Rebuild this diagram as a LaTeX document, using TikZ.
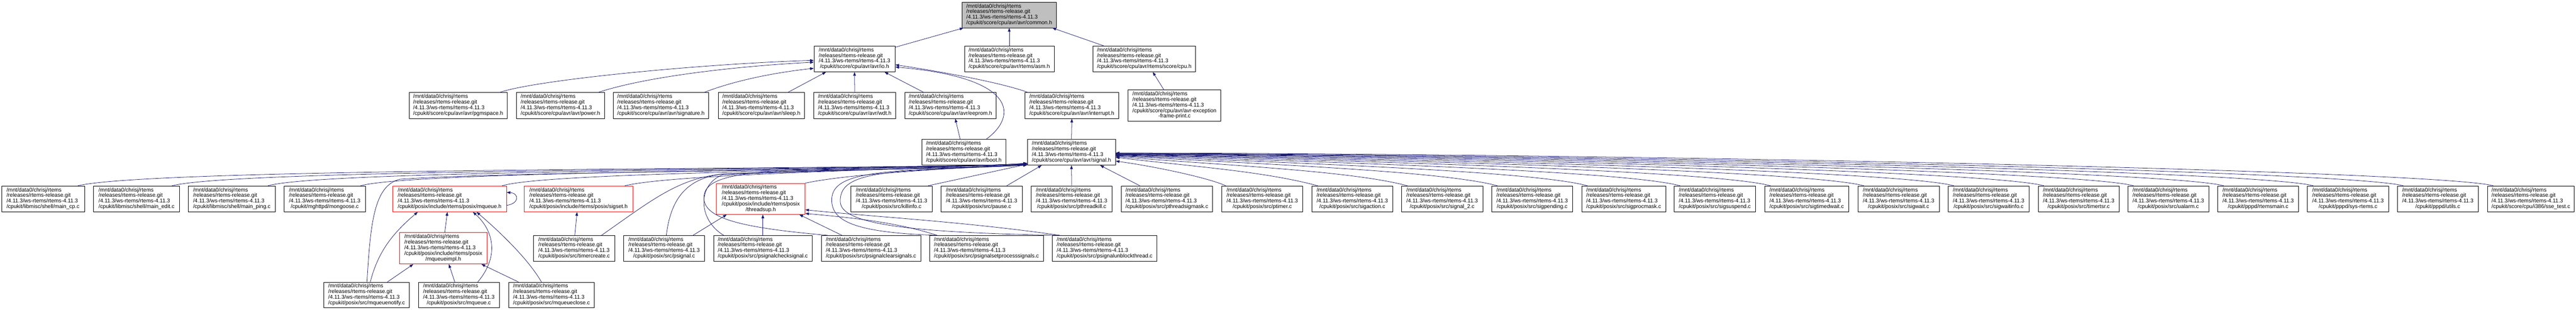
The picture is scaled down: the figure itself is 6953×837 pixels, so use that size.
\documentclass[tikz,border=0pt]{standalone}
\usepackage{fontspec}
\setmainfont{Liberation Sans}
\usetikzlibrary{arrows.meta,calc}
\definecolor{edgec}{RGB}{25,25,112}
\definecolor{topfill}{RGB}{191,191,191}
\newcommand\pathpre{/mnt/data0/chrisj/rtems\\/releases/rtems-release.git\\/4.11.3/ws-rtems/rtems-4.11.3\\}
\newcommand\lastl[1]{\multicolumn{1}{@{}c@{}}{#1}}
\newcommand\gn[7][]{%
 \pgfmathsetmacro\gncx{(#3+#4)/2}%
 \pgfmathsetmacro\gncy{(#5+#6)/2}%
 \pgfmathsetmacro\gnw{(#4-#3)*0.75}%
 \pgfmathsetmacro\gnh{(#6-#5)*0.75}%
 \node[gbox,#1,minimum width=\gnw pt,minimum height=\gnh pt] (#2) at (\gncx,\gncy) {\begin{tabular}{@{}l@{}}\pathpre #7\end{tabular}};}
\newcommand\redge[3]{%
 \pgfmathsetmacro\rca{#2-150}%
 \pgfmathsetmacro\rcb{3011+0.4*(#2-3011)}%
 \pgfmathsetmacro\rcc{#3+0.4*(502-#3)-0.009*(#2-3011)}%
 \pgfmathsetmacro\rdy{#3-411}%
 \draw[dep] ($(#1.north west)+(16,0)$) .. controls (\rca,462) and (\rcb,\rcc) .. ($(signal.east)+(0,\rdy)$);}
\begin{document}
\begin{tikzpicture}[x=0.75pt,y=-0.75pt,
 gbox/.style={draw=black,line width=0.75pt,fill=white,inner sep=0pt,font=\fontsize{11}{11.2}\selectfont},
 redbox/.style={draw=red},
 dep/.style={draw=edgec,line width=0.8pt,-{Triangle[length=7.5pt,width=5.5pt]}}]
\useasboundingbox (0,0) rectangle (6953,837);
% level 1
\gn[fill=topfill]{common}{2597}{2851}{6}{75}{\lastl{/cpukit/score/cpu/avr/avr/common.h}}
% level 2
\gn{io}{2197}{2416}{124}{194}{\lastl{/cpukit/score/cpu/avr/avr/io.h}}
\gn{asm}{2603}{2845}{124}{194}{\lastl{/cpukit/score/cpu/avr/rtems/asm.h}}
\gn{cpu}{2950}{3227}{124}{194}{\lastl{/cpukit/score/cpu/avr/rtems/score/cpu.h}}
% level 3
\gn{pgmspace}{1104}{1369}{250}{320}{\lastl{/cpukit/score/cpu/avr/avr/pgmspace.h}}
\gn{power}{1394}{1631}{250}{320}{\lastl{/cpukit/score/cpu/avr/avr/power.h}}
\gn{signature}{1655}{1913}{250}{320}{\lastl{/cpukit/score/cpu/avr/avr/signature.h}}
\gn{sleep}{1939}{2171}{250}{320}{\lastl{/cpukit/score/cpu/avr/avr/sleep.h}}
\gn{wdt}{2196}{2418}{250}{320}{\lastl{/cpukit/score/cpu/avr/avr/wdt.h}}
\gn{eeprom}{2442}{2689}{250}{320}{\lastl{/cpukit/score/cpu/avr/avr/eeprom.h}}
\gn{interrupt}{2766}{3020}{250}{320}{\lastl{/cpukit/score/cpu/avr/avr/interrupt.h}}
\gn{avrexc}{3045}{3295}{243}{327}{/cpukit/score/cpu/avr/avr-exception\\\lastl{-frame-print.c}}
% level 4
\gn{boot}{2488}{2715}{376}{446}{\lastl{/cpukit/score/cpu/avr/avr/boot.h}}
\gn{signal}{2773}{3011}{376}{446}{\lastl{/cpukit/score/cpu/avr/avr/signal.h}}
% level 5
\gn{maincp}{4}{228}{502}{572}{\lastl{/cpukit/libmisc/shell/main\_cp.c}}
\gn{mainedit}{252}{485}{502}{572}{\lastl{/cpukit/libmisc/shell/main\_edit.c}}
\gn{mainping}{508}{743}{502}{572}{\lastl{/cpukit/libmisc/shell/main\_ping.c}}
\gn{mongoose}{767}{986}{502}{572}{\lastl{/cpukit/mghttpd/mongoose.c}}
\gn[redbox]{mqueueh}{1060}{1367}{502}{572}{\lastl{/cpukit/posix/include/rtems/posix/mqueue.h}}
\gn[redbox]{sigset}{1415}{1708}{502}{572}{\lastl{/cpukit/posix/include/rtems/posix/sigset.h}}
\gn[redbox]{threadsup}{1934}{2173}{495}{579}{/cpukit/posix/include/rtems/posix\\\lastl{/threadsup.h}}
\gn{killinfo}{2297}{2516}{502}{572}{\lastl{/cpukit/posix/src/killinfo.c}}
\gn{pause}{2540}{2759}{502}{572}{\lastl{/cpukit/posix/src/pause.c}}
\gn{pthreadkill}{2783}{3002}{502}{572}{\lastl{/cpukit/posix/src/pthreadkill.c}}
\gn{pthreadsigmask}{3026}{3273}{502}{572}{\lastl{/cpukit/posix/src/pthreadsigmask.c}}
\gn{ptimer}{3298}{3516}{502}{572}{\lastl{/cpukit/posix/src/ptimer.c}}
\gn{sigaction}{3541}{3759}{502}{572}{\lastl{/cpukit/posix/src/sigaction.c}}
\gn{signaltwo}{3783}{4002}{502}{572}{\lastl{/cpukit/posix/src/signal\_2.c}}
\gn{sigpending}{4026}{4245}{502}{572}{\lastl{/cpukit/posix/src/sigpending.c}}
\gn{sigprocmask}{4269}{4496}{502}{572}{\lastl{/cpukit/posix/src/sigprocmask.c}}
\gn{sigsuspend}{4519}{4738}{502}{572}{\lastl{/cpukit/posix/src/sigsuspend.c}}
\gn{sigtimedwait}{4763}{4990}{502}{572}{\lastl{/cpukit/posix/src/sigtimedwait.c}}
\gn{sigwait}{5015}{5234}{502}{572}{\lastl{/cpukit/posix/src/sigwait.c}}
\gn{sigwaitinfo}{5258}{5477}{502}{572}{\lastl{/cpukit/posix/src/sigwaitinfo.c}}
\gn{timertsr}{5501}{5720}{502}{572}{\lastl{/cpukit/posix/src/timertsr.c}}
\gn{ualarm}{5743}{5962}{502}{572}{\lastl{/cpukit/posix/src/ualarm.c}}
\gn{rtemsmain}{5986}{6204}{502}{572}{\lastl{/cpukit/pppd/rtemsmain.c}}
\gn{sysrtems}{6228}{6447}{502}{572}{\lastl{/cpukit/pppd/sys-rtems.c}}
\gn{utils}{6471}{6689}{502}{572}{\lastl{/cpukit/pppd/utils.c}}
\gn{ssetest}{6714}{6948}{502}{572}{\lastl{/cpukit/score/cpu/i386/sse\_test.c}}
% level 6
\gn[redbox]{mqueueimpl}{1078}{1315}{628}{713}{/cpukit/posix/include/rtems/posix\\\lastl{/mqueueimpl.h}}
\gn{timercreate}{1440}{1659}{636}{705}{\lastl{/cpukit/posix/src/timercreate.c}}
\gn{psignal}{1683}{1902}{636}{705}{\lastl{/cpukit/posix/src/psignal.c}}
\gn{psignalcheck}{1926}{2192}{636}{705}{\lastl{/cpukit/posix/src/psignalchecksignal.c}}
\gn{psignalclear}{2217}{2485}{636}{705}{\lastl{/cpukit/posix/src/psignalclearsignals.c}}
\gn{psignalset}{2509}{2816}{636}{705}{\lastl{/cpukit/posix/src/psignalsetprocesssignals.c}}
\gn{psignalunblock}{2840}{3123}{636}{705}{\lastl{/cpukit/posix/src/psignalunblockthread.c}}
% level 7
\gn{mqueuenotify}{874}{1105}{762}{831}{\lastl{/cpukit/posix/src/mqueuenotify.c}}
\gn{mqueuec}{1129}{1348}{762}{831}{\lastl{/cpukit/posix/src/mqueue.c}}
\gn{mqueueclose}{1373}{1604}{762}{831}{\lastl{/cpukit/posix/src/mqueueclose.c}}

% ---- edges to common.h
\draw[dep] ($(io.north east)+(0,4)$) -- ($(common.south west)+(4,0)$);
\draw[dep] (asm.north) -- (common.south);
\draw[dep] ($(cpu.north west)+(29,0)$) -- ($(common.south east)+(-11,0)$);
% ---- edges to io.h
\draw[dep] ($(pgmspace.north east)+(-21,0)$) .. controls (1450,215) and (1900,172) .. ($(io.west)+(0,4)$);
\draw[dep] ($(power.north east)+(-17,0)$) .. controls (1750,205) and (2000,178) .. ($(io.west)+(0,9)$);
\draw[dep] ($(signature.north east)+(-13,0)$) .. controls (1990,215) and (2100,195) .. ($(io.south west)+(0,-10)$);
\draw[dep] ($(sleep.north east)+(-45,0)$) -- ($(io.south west)+(33,0)$);
\draw[dep] (wdt.north) -- (io.south);
\draw[dep] ($(eeprom.north west)+(52,0)$) -- ($(io.south east)+(-29,0)$);
\draw[dep] ($(interrupt.north west)+(9,0)$) .. controls (2700,222) and (2520,190) .. ($(io.east)+(0,16)$);
\draw[dep] ($(boot.north east)+(-53,0)$) .. controls (2745,315) and (2750,210) .. ($(io.east)+(0,22)$);
\draw[dep] ($(boot.north)+(-10,0)$) -- ($(eeprom.south)+(13,0)$);
% ---- other upper edges
\draw[dep] ($(avrexc.north west)+(97,0)$) -- ($(cpu.south west)+(162,0)$);
\draw[dep] (signal.north) -- (interrupt.south);

% ---- level 5 (left) to signal.h
\draw[dep] ($(maincp.north east)+(-18,0)$) .. controls (420,452) and (2300,458) .. ($(signal.south west)+(0,-3)$);
\draw[dep] ($(mainedit.north east)+(-21,0)$) .. controls (650,455) and (2300,459) .. ($(signal.south west)+(0,-3)$);
\draw[dep] ($(mainping.north east)+(-20,0)$) .. controls (880,458) and (2320,460) .. ($(signal.south west)+(0,-4)$);
\draw[dep] ($(mongoose.north east)+(-13,0)$) .. controls (1120,462) and (2340,460) .. ($(signal.south west)+(0,-4)$);
\draw[dep] ($(mqueueh.north east)+(-12,0)$) .. controls (1480,465) and (2360,461) .. ($(signal.south west)+(0,-5)$);
\draw[dep] ($(sigset.north east)+(-22,0)$) .. controls (1820,470) and (2400,460) .. ($(signal.south west)+(0,-5)$);
\draw[dep] (threadsup.north east) .. controls (2300,468) and (2550,458) .. ($(signal.south west)+(0,-6)$);
\draw[dep] ($(killinfo.north east)+(-11,0)$) -- ($(signal.south west)+(0,-3)$);
\draw[dep] ($(pause.north east)+(-42,0)$) -- ($(signal.south west)+(39,0)$);
\draw[dep] (pthreadkill.north) -- (signal.south);
% ---- level 5 (right) to signal.h
\draw[dep] ($(pthreadsigmask.north west)+(51,0)$) -- ($(signal.south east)+(-42,0)$);
\draw[dep] ($(ptimer.north west)+(11,0)$) .. controls (3260,480) and (3120,450) .. ($(signal.east)+(0,24)$);
\redge{sigaction}{3557}{425}
\redge{signaltwo}{3799}{423}
\redge{sigpending}{4042}{421}
\redge{sigprocmask}{4285}{420}
\redge{sigsuspend}{4535}{419}
\redge{sigtimedwait}{4779}{418}
\redge{sigwait}{5031}{417.5}
\redge{sigwaitinfo}{5274}{417}
\redge{timertsr}{5517}{416}
\redge{ualarm}{5759}{415.5}
\redge{rtemsmain}{6002}{415}
\redge{sysrtems}{6244}{414.5}
\redge{utils}{6487}{414}
\redge{ssetest}{6730}{413}

% ---- lower levels to signal.h
\draw[dep] ($(mqueuenotify.north west)+(117,0)$) .. controls (1000,600) and (1010,500) .. (1080,484) .. controls (1400,462) and (2350,462) .. ($(signal.south west)+(0,-4)$);
\draw[dep] ($(timercreate.north east)+(-36,0)$) .. controls (1760,540) and (1830,482) .. (1950,470) .. controls (2250,458) and (2550,456) .. ($(signal.south west)+(0,-2)$);
\draw[dep] ($(psignal.north west)+(116,0)$) .. controls (1810,540) and (1850,482) .. (1950,470) .. controls (2250,458) and (2550,456) .. ($(signal.south west)+(0,-2)$);
\draw[dep] ($(psignalcheck.north west)+(28,0)$) .. controls (1885,595) and (1880,500) .. (1950,472) .. controls (2250,458) and (2550,456) .. ($(signal.south west)+(0,-1)$);
\draw[dep] ($(psignalclear.north west)+(18,0)$) .. controls (2000,615) and (1895,590) .. (1900,530) .. controls (1903,490) and (1960,470) .. (2100,462) .. controls (2450,455) and (2600,455) .. ($(signal.south west)+(0,-1)$);
\draw[dep] ($(psignalset.north west)+(21,0)$) .. controls (2300,628) and (2245,595) .. (2245,540) .. controls (2245,490) and (2300,470) .. (2450,460) .. controls (2600,452) and (2700,450) .. ($(signal.south west)+(0,-1)$);
\draw[dep] ($(psignalunblock.north west)+(21,0)$) .. controls (2450,628) and (2270,605) .. (2268,545) .. controls (2266,490) and (2320,470) .. (2470,460) .. controls (2620,452) and (2700,450) .. ($(signal.south west)+(0,-1)$);

% ---- threadsup.h
\draw[dep] ($(psignal.north east)+(-32,0)$) -- ($(threadsup.south west)+(28,0)$);
\draw[dep] (psignalcheck.north) -- (threadsup.south -| psignalcheck.north);
\draw[dep] ($(psignalclear.north west)+(56,0)$) -- ($(threadsup.south east)+(-16,0)$);
\draw[dep] ($(psignalset.north west)+(21,0)$) .. controls (2420,600) and (2300,588) .. ($(threadsup.south east)+(0,-3)$);
\draw[dep] ($(psignalunblock.north west)+(21,0)$) .. controls (2600,598) and (2350,585) .. ($(threadsup.south east)+(0,-13)$);
% ---- sigset.h
\draw[dep] ($(timercreate.north west)+(112,0)$) -- ($(sigset.south)+(-4,0)$);
% ---- mqueue.h / mqueueimpl.h
\draw[dep] ($(mqueueimpl.north)+(4,0)$) -- ($(mqueueh.south)+(-6,0)$);
\draw[dep] ($(mqueuenotify.north west)+(126,0)$) .. controls (1020,680) and (1060,630) .. ($(mqueueh.south west)+(68,0)$);
\draw[dep] ($(mqueuenotify.north west)+(172,0)$) -- ($(mqueueimpl.south west)+(38,0)$);
\draw[dep] ($(mqueuec.north west)+(99,0)$) -- ($(mqueueimpl.south west)+(134,0)$);
\draw[dep] ($(mqueuec.north west)+(161,0)$) .. controls (1350,690) and (1330,620) .. ($(mqueueh.south west)+(217,0)$);
\draw[dep] ($(mqueueclose.north west)+(27,0)$) -- ($(mqueueimpl.south east)+(-16,0)$);
\draw[dep] ($(mqueueclose.north west)+(89,0)$) .. controls (1420,690) and (1330,610) .. ($(mqueueh.south west)+(227,0)$);
\draw[dep] ($(mqueueh.north east)+(0,53)$) .. controls (1402,550) and (1402,522) .. ($(mqueueh.north east)+(0,18)$);
\end{tikzpicture}
\end{document}
